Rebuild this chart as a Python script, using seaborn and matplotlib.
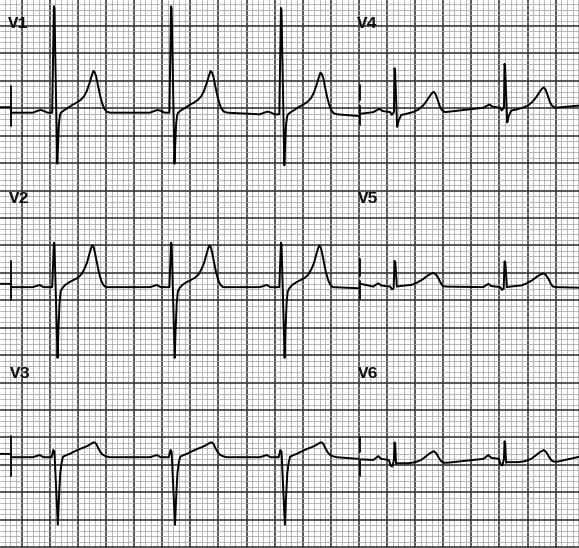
import numpy as np
import pandas as pd
import seaborn as sns
import matplotlib.pyplot as plt

# paper speed 25 mm/s, 10 mm/mV -> small box = 0.04 s x 0.1 mV
# R-peak times (s) along the strip, left column (V1-V3) and right column (V4-V6)
r_left = [0.229, 1.063, 1.845]
r_right = [2.653, 3.436]

# one beat per lead: offset from R peak (s) and amplitude (mV)
v1_t = [-0.15, -0.12, -0.095, -0.07, -0.045, -0.012, 0.0, 0.004, 0.024, 0.03,
        0.036, 0.043, 0.05, 0.07, 0.095, 0.13, 0.16, 0.19, 0.215, 0.235,
        0.255, 0.27, 0.281, 0.292, 0.302, 0.315, 0.33, 0.345, 0.36, 0.375, 0.40]
v1_mv = [0, 0.03, 0.05, 0.03, 0, 0, 1.94, 1.9, -0.93, -0.55,
         -0.2, -0.05, 0.0, 0.04, 0.08, 0.14, 0.18, 0.23, 0.3, 0.4,
         0.55, 0.68, 0.76, 0.73, 0.65, 0.48, 0.3, 0.16, 0.07, 0.02, 0.0]

v2_t = [-0.15, -0.125, -0.1, -0.075, -0.012, 0.0, 0.004, 0.026, 0.032,
        0.04, 0.048, 0.06, 0.08, 0.11, 0.14, 0.17, 0.195, 0.215, 0.235,
        0.25, 0.263, 0.273, 0.283, 0.293, 0.306, 0.32, 0.337, 0.352, 0.37]
v2_mv = [0, 0.02, 0.04, 0, 0, 0.81, 0.78, -1.29, -0.8,
         -0.3, -0.08, -0.02, 0.04, 0.09, 0.13, 0.17, 0.23, 0.32, 0.44,
         0.58, 0.70, 0.76, 0.73, 0.62, 0.45, 0.27, 0.12, 0.04, 0.0]

v3_t = [-0.15, -0.125, -0.1, -0.075, -0.016, -0.004, 0.004, 0.028, 0.036,
        0.045, 0.055, 0.065, 0.09, 0.112, 0.135, 0.159, 0.185, 0.206, 0.225,
        0.242, 0.265, 0.282, 0.292, 0.302, 0.315, 0.33, 0.345, 0.367, 0.395]
v3_mv = [0, 0.02, 0.04, 0, 0, 0.13, 0.1, -1.23, -0.75,
         -0.3, -0.1, 0.01, 0.04, 0.06, 0.09, 0.12, 0.15, 0.17, 0.19,
         0.21, 0.245, 0.27, 0.265, 0.24, 0.17, 0.10, 0.05, 0.02, 0.0]

v4_t = [-0.15, -0.13, -0.107, -0.085, -0.03, -0.02, -0.004, 0.0, 0.004, 0.019,
        0.03, 0.048, 0.071, 0.1, 0.13, 0.166, 0.2, 0.225, 0.25, 0.268,
        0.28, 0.292, 0.308, 0.322, 0.337, 0.36]
v4_mv = [0, 0.03, 0.06, 0.02, 0, -0.05, 0.0, 0.8, 0.75, -0.27,
         -0.15, -0.05, -0.04, -0.02, 0.0, 0.04, 0.11, 0.19, 0.29, 0.35,
         0.37, 0.33, 0.22, 0.11, 0.04, 0.0]

v5_t = [-0.15, -0.135, -0.114, -0.095, -0.03, -0.019, -0.006, 0.0, 0.006, 0.017,
        0.04, 0.08, 0.12, 0.159, 0.2, 0.23, 0.255, 0.277, 0.295, 0.313,
        0.33, 0.344, 0.37]
v5_mv = [0, 0.03, 0.06, 0.02, 0, -0.05, -0.03, 0.47, 0.44, 0.0,
         0.01, 0.02, 0.03, 0.07, 0.13, 0.19, 0.23, 0.25, 0.22, 0.15,
         0.06, 0.01, 0.0]

v6_t = [-0.15, -0.135, -0.115, -0.095, -0.04, -0.028, -0.016, -0.004, 0.0, 0.005,
        0.011, 0.02, 0.06, 0.1, 0.149, 0.19, 0.221, 0.25, 0.28, 0.298,
        0.315, 0.335, 0.351, 0.38]
v6_mv = [0, 0.03, 0.07, 0.02, 0, -0.1, -0.12, 0.0, 0.32, 0.28,
         -0.07, -0.06, -0.06, -0.06, -0.04, 0.0, 0.06, 0.12, 0.16, 0.12,
         0.04, -0.03, -0.05, -0.05]

# baseline wander (mV): [lead-in, start, beat..., end]
v1_level = [0.1, 0.0, 0.0, 0.0, -0.03, -0.06]
v2_level = [0.06, 0.0, 0.0, 0.0, 0.0, -0.02]
v3_level = [0.06, 0.0, 0.0, 0.0, 0.0, -0.03]
v4_level = [-0.03, 0.0, 0.08, 0.12]
v5_level = [0.05, 0.0, -0.01, -0.02]
v6_level = [0.01, 0.0, 0.02, 0.06]

# layout
t_edge, t_mark_l, t_end_l = -0.16, -0.076, 2.396
t_mark_r, t_end_r = 2.411, 3.97
row_base = {"V1": -1.58, "V2": -4.76, "V3": -7.86,
            "V4": -1.57, "V5": -4.75, "V6": -7.91}
mark_l = {"V1": (0.48, -0.25), "V2": (0.47, -0.24), "V3": (0.38, -0.35)}
mark_r = {"V4": [(0.5, 0.22), (0.11, -0.24)],
          "V5": [(0.5, 0.19), (0.1, -0.22)],
          "V6": [(0.42, 0.15), (0.0, -0.3)]}
label_pos = {"V1": (8, 28.5), "V2": (9, 203), "V3": (10, 378),
             "V4": (357, 27.5), "V5": (358, 203), "V6": (358, 378.5)}


def strip(name, tt, mv, peaks, level, left):
    base = row_base[name]
    if left:
        ts = [t_edge, t_mark_l, t_mark_l]
        vs = [level[0], level[0], level[1]]
        beats = level[2:-1]
        t_end = t_end_l
    else:
        ts = [t_mark_r]
        vs = [level[0]]
        beats = level[1:-1]
        t_end = t_end_r
    for r, lev in zip(peaks, beats):
        ts += [r + o for o in tt]
        vs += [lev + a for a in mv]
    ts.append(t_end)
    vs.append(level[-1])
    return pd.DataFrame({"t": ts, "mv": [v + base for v in vs], "lead": name})


df = pd.concat([
    strip("V1", v1_t, v1_mv, r_left, v1_level, True),
    strip("V2", v2_t, v2_mv, r_left, v2_level, True),
    strip("V3", v3_t, v3_mv, r_left, v3_level, True),
    strip("V4", v4_t, v4_mv, r_right, v4_level, False),
    strip("V5", v5_t, v5_mv, r_right, v5_level, False),
    strip("V6", v6_t, v6_mv, r_right, v6_level, False),
], ignore_index=True)

sns.set_style("white")
fig = plt.figure(figsize=(5.79, 5.48), dpi=100)
ax = fig.add_axes([0, 0, 1, 1])

sns.lineplot(data=df, x="t", y="mv", units="lead", estimator=None, sort=False,
             color="black", lw=1.4, ax=ax, legend=False)

# lead separator / calibration ticks
for name, (hi, lo) in mark_l.items():
    ax.plot([t_mark_l, t_mark_l], [row_base[name] + hi, row_base[name] + lo],
            color="black", lw=1.3)
for name, segs in mark_r.items():
    for hi, lo in segs:
        ax.plot([t_mark_r, t_mark_r], [row_base[name] + hi, row_base[name] + lo],
                color="black", lw=1.3)

ax.set_xlim(-0.1544, 3.966)
ax.set_ylim(-9.515, 0.474)
ax.set_xticks(np.arange(0, 3.9, 0.2))
ax.set_xticks(np.arange(-0.12, 3.97, 0.04), minor=True)
ax.set_yticks(np.arange(-9.5, 0.01, 0.5))
ax.set_yticks(np.arange(-9.5, 0.47, 0.1), minor=True)
ax.grid(which="major", color="#3a3a3a", lw=1.2)
ax.grid(which="minor", color="#a4a4a4", lw=0.55)
ax.set_axisbelow(True)
ax.tick_params(which="both", length=0, labelbottom=False, labelleft=False)
ax.set_xlabel("")
ax.set_ylabel("")
for s in ax.spines.values():
    s.set_visible(False)

for name, (px, py) in label_pos.items():
    ax.text(px / 579, 1 - py / 548, name, transform=ax.transAxes,
            fontsize=12.5, fontweight="bold",
            family=["Liberation Mono", "DejaVu Sans Mono"],
            va="baseline", ha="left", color="#111111")

fig.savefig("out.png", dpi=100)
